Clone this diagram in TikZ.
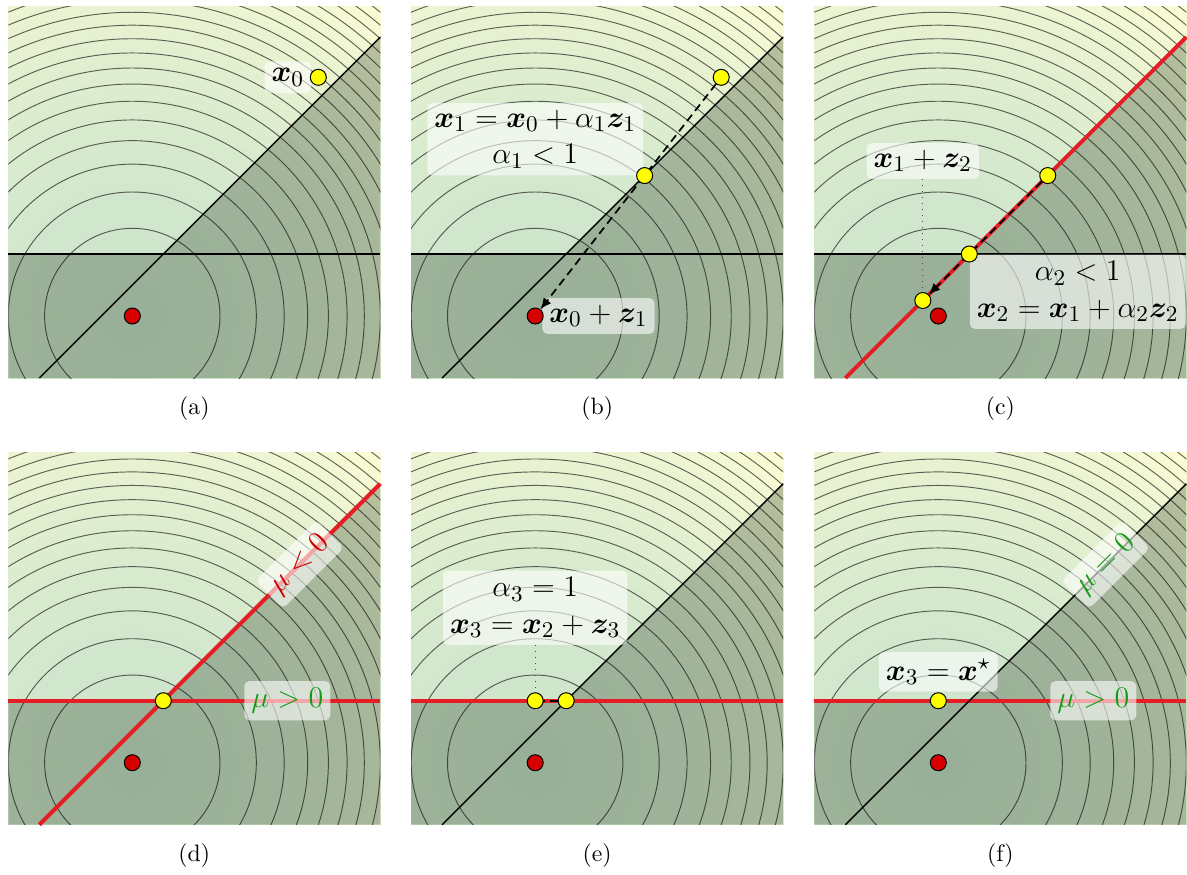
\documentclass[tikz,border=0pt]{standalone}
\usepackage{amsmath}
\usepackage{bm}
\usetikzlibrary{arrows.meta}
\definecolor{myred}{RGB}{228,30,36}
\definecolor{dotred}{RGB}{215,0,0}
\definecolor{dotyellow}{RGB}{255,255,0}
\definecolor{mygreen}{RGB}{20,155,20}
\definecolor{textred}{RGB}{200,0,0}
\definecolor{shadecol}{RGB}{0,20,0}
\definecolor{bgG}{RGB}{205,229,204}
\definecolor{bgY}{RGB}{252,252,212}
\newcommand\lblfont{\fontsize{12.3}{14.6}\selectfont}
\newcommand\captfont{\fontsize{9.5}{11}\selectfont}
\tikzset{
  contourline/.style={draw=black, draw opacity=0.6, line width=0.38pt},
  infeas/.style={fill=shadecol, fill opacity=0.25},
  cline/.style={draw=black, line width=0.55pt},
  redline/.style={draw=myred, line width=1.6pt},
  dot/.style={circle, draw=black, line width=0.4pt, minimum size=6.4pt, inner sep=0pt},
  ydot/.style={dot, fill=dotyellow},
  rdot/.style={dot, fill=dotred},
  lbl/.style={fill=white, fill opacity=0.6, text opacity=1, rounded corners=2pt,
              inner sep=2.8pt, font=\lblfont, align=center},
  dline/.style={line width=0.7pt, dash pattern=on 3.2pt off 2pt},
  darrow/.style={dline, -{Latex[length=4.5pt,width=3.8pt]}},
  dotline/.style={draw=black!70, dotted, line width=0.4pt},
  capt/.style={font=\captfont}
}
\newcommand\panelbg[3]{%
  \begin{scope}
    \clip (-2,-1) rectangle (4,5);
    \foreach \i in {130,129,...,1}{%
      \pgfmathsetmacro\myt{min(100,100*(\i/128)^2)}%
      \fill[bgY!\myt!bgG] (0,0) circle ({\i*0.05});}
    \foreach \k in {1,...,22} \draw[contourline] (0,0) circle ({1.4142*sqrt(\k)});
    \fill[infeas] (-2,-1) -- (-2,1) -- (0.5,1) -- (4,4.5) -- (4,-1) -- cycle;
  \end{scope}
  \draw[#2] (-2,1) -- (4,1);
  \draw[#3] (-1.5,-1) -- (4,4.5);
  \node[capt] at (1,-1.5) {(#1)};
}
\begin{document}
\begin{tikzpicture}[x=24.8pt,y=24.8pt]
\fill[white] (0,0) rectangle (19.145,14.097);
\useasboundingbox (0,0) rectangle (19.145,14.097);

% (a)
\begin{scope}[shift={(2.134,9)}]
  \panelbg{a}{cline}{cline}
  \node[lbl, anchor=east] (a-l) at (2.893,3.85) {$\bm{x}_0$};
  \node[rdot] (a-c) at (0,0) {};
  \node[ydot] (a-x0) at (3,3.85) {};
\end{scope}

% (b)
\begin{scope}[shift={(8.632,9)}]
  \panelbg{b}{cline}{cline}
  \node[lbl] (b-l1) at (0,2.85) {$\bm{x}_1 = \bm{x}_0 + \alpha_1 \bm{z}_1$\\ $\alpha_1 < 1$};
  \node[lbl, anchor=west] (b-l2) at (0.108,0) {$\bm{x}_0 + \bm{z}_1$};
  \node[rdot] (b-c) at (0,0) {};
  \node[ydot] (b-x0) at (3,3.85) {};
  \draw[darrow] (b-x0) -- (b-c);
  \node[ydot] (b-x1) at (1.765,2.265) {};
\end{scope}

% (c)
\begin{scope}[shift={(15.134,9)}]
  \panelbg{c}{cline}{redline}
  \node[lbl] (c-l1) at (-0.25,2.5) {$\bm{x}_1 + \bm{z}_2$};
  \node[lbl, anchor=north west] (c-l2) at (0.5,1) {$\alpha_2 < 1$\\ $\bm{x}_2 = \bm{x}_1 + \alpha_2 \bm{z}_2$};
  \node[rdot] (c-c) at (0,0) {};
  \node[ydot] (c-x1) at (1.765,2.265) {};
  \node[ydot] (c-p) at (-0.25,0.25) {};
  \draw[dotline] (c-l1.south) -- (c-p.north);
  \draw[darrow] (c-x1) -- (c-p);
  \node[ydot] (c-x2) at (0.5,1) {};
\end{scope}

% (d)
\begin{scope}[shift={(2.134,1.795)}]
  \panelbg{d}{redline}{redline}
  \node[lbl, rotate=45, text=textred] (d-l1) at (2.7,3.2) {$\mu < 0$};
  \node[lbl, text=mygreen] (d-l2) at (2.5,1) {$\mu > 0$};
  \node[rdot] (d-c) at (0,0) {};
  \node[ydot] (d-x) at (0.5,1) {};
\end{scope}

% (e)
\begin{scope}[shift={(8.632,1.795)}]
  \panelbg{e}{redline}{cline}
  \node[lbl] (e-l) at (0,2.5) {$\alpha_3 = 1$\\ $\bm{x}_3 = \bm{x}_2 + \bm{z}_3$};
  \node[rdot] (e-c) at (0,0) {};
  \coordinate (e-p2) at (0.5,1);
  \coordinate (e-p3) at (0,1);
  \draw[dline, shorten <=3.2pt, shorten >=3.2pt] (e-p2) -- (e-p3);
  \node[ydot] (e-x2) at (e-p2) {};
  \node[ydot] (e-x3) at (e-p3) {};
  \draw[dotline] (e-l.south) -- (e-x3.north);
\end{scope}

% (f)
\begin{scope}[shift={(15.134,1.795)}]
  \panelbg{f}{redline}{cline}
  \node[lbl, rotate=45, text=mygreen] (f-l1) at (2.7,3.2) {$\mu = 0$};
  \node[lbl, text=mygreen] (f-l2) at (2.5,1) {$\mu > 0$};
  \node[rdot] (f-c) at (0,0) {};
  \node[ydot] (f-x3) at (0,1) {};
  \node[lbl, anchor=south] (f-l3) at (f-x3.north) {$\bm{x}_3 = \bm{x}^\star$};
\end{scope}
\end{tikzpicture}
\end{document}
